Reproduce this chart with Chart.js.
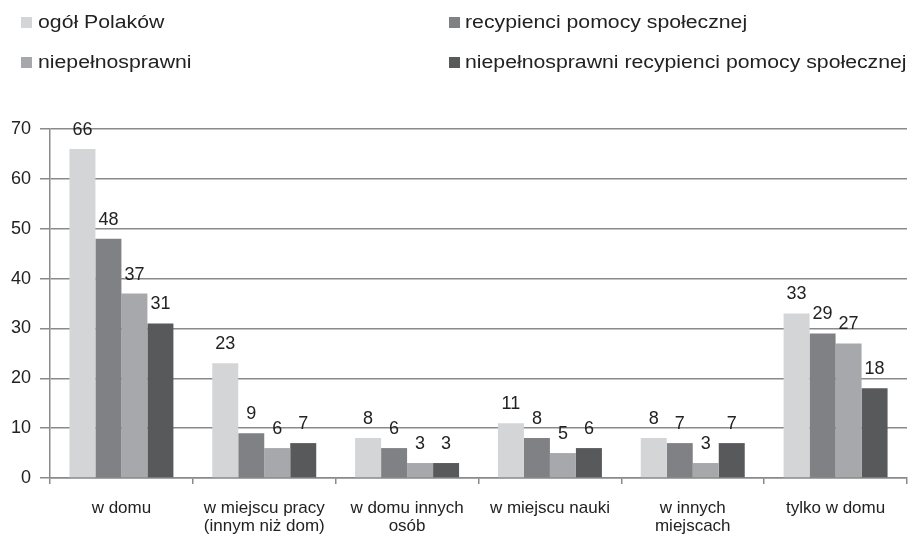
<!DOCTYPE html>
<html><head><meta charset="utf-8">
<script src="https://cdn.jsdelivr.net/npm/chart.js@4/dist/chart.umd.min.js"></script>
<style>
html,body{margin:0;padding:0;background:#fff;}
canvas{display:block;}
</style></head>
<body><canvas id="c" width="911" height="534"></canvas>
<script>
const categories = [["w domu"],["w miejscu pracy","(innym niż dom)"],["w domu innych","osób"],["w miejscu nauki"],["w innych","miejscach"],["tylko w domu"]];
const seriesNames = ["ogół Polaków","recypienci pomocy społecznej","niepełnosprawni","niepełnosprawni recypienci pomocy społecznej"];
const ogolPolakow = [66,23,8,11,8,33];
const recypienci = [48,9,6,8,7,29];
const niepelnosprawni = [37,6,3,5,3,27];
const niepRecypienci = [31,7,3,6,7,18];
const seriesColors = ["#d4d5d7","#808185","#a7a8ab","#58595b"];
const yTicks = {min:0,max:70,step:10};

const values = [ogolPolakow, recypienci, niepelnosprawni, niepRecypienci];
const FONT = '"Liberation Sans", Arial, sans-serif';
const TEXT = '#222';

// legend drawn on canvas: [squareX, baselineY, textX]
const legendPos = [[21,28,38],[449,28,465],[21,68,38],[449,68,465]];
const legendOrder = [0,1,2,3];

const customLegend = {
  id:'customLegend',
  afterDraw(chart){
    const ctx=chart.ctx;ctx.save();
    legendOrder.forEach((si,k)=>{
      const [sx,by,tx]=legendPos[k];
      ctx.fillStyle=seriesColors[si];
      ctx.fillRect(sx,by-11,11,11);
      ctx.save();
      ctx.translate(tx,by);ctx.scale(1.18,1);
      ctx.font='18px '+FONT;ctx.fillStyle=TEXT;ctx.textAlign='left';ctx.textBaseline='alphabetic';
      ctx.fillText(seriesNames[si],0,0);
      ctx.restore();
    });
    ctx.restore();
  }
};

const valueLabels = {
  id:'valueLabels',
  afterDatasetsDraw(chart){
    const ctx=chart.ctx;ctx.save();
    ctx.font='18px '+FONT;ctx.fillStyle=TEXT;ctx.textAlign='center';ctx.textBaseline='alphabetic';
    chart.data.datasets.forEach((ds,di)=>{
      chart.getDatasetMeta(di).data.forEach((el,i)=>{
        ctx.fillText(String(ds.data[i]), el.x, el.y-14);
      });
    });
    ctx.restore();
  }
};

new Chart(document.getElementById('c'),{
  type:'bar',
  data:{labels:categories,datasets:values.map((v,i)=>({label:seriesNames[i],data:v,backgroundColor:seriesColors[i],borderWidth:0,categoryPercentage:0.728,barPercentage:1}))},
  options:{
    responsive:false,animation:false,
    layout:{padding:{top:129,right:4,left:0,bottom:0}},
    plugins:{legend:{display:false},tooltip:{enabled:false}},
    scales:{
      x:{
        grid:{display:true,drawOnChartArea:false,offset:true,tickLength:6,color:'#8a8a8a',lineWidth:1.5},
        border:{display:true,color:'#8a8a8a',width:1.5},
        ticks:{color:TEXT,font:{family:FONT,size:17,lineHeight:1.06},padding:15,maxRotation:0,autoSkip:false},
        afterFit(s){s.height=56;}
      },
      y:{
        min:yTicks.min,max:yTicks.max,
        ticks:{stepSize:yTicks.step,color:TEXT,font:{family:FONT,size:18},padding:9},
        grid:{color:'#8a8a8a',lineWidth:1.5,tickLength:10},
        border:{display:true,color:'#8a8a8a',width:1.5},
        afterFit(s){s.width=50;}
      }
    }
  },
  plugins:[valueLabels, customLegend]
});
</script></body></html>
